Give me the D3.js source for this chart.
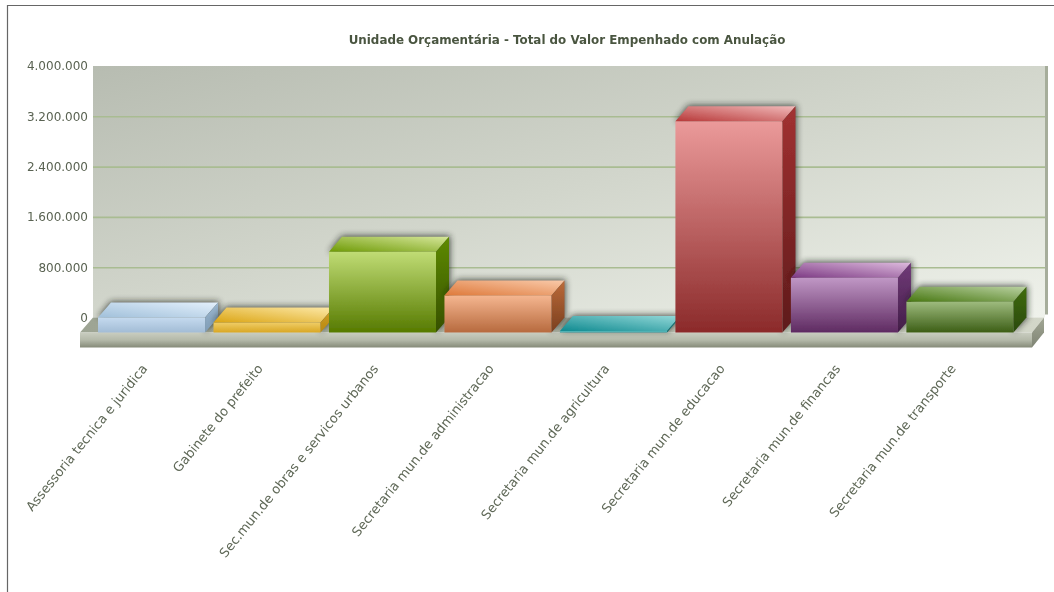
<!DOCTYPE html>
<html><head><meta charset="utf-8">
<script src="https://cdn.jsdelivr.net/npm/d3@7"></script>
<style>
html,body{margin:0;padding:0;background:#fff;overflow:hidden}
svg{display:block}
text{font-family:"DejaVu Sans",sans-serif}
</style></head><body>
<svg id="c" width="1054" height="592"></svg>
<script>
const titleText = "Unidade Orçamentária - Total do Valor Empenhado com Anulação";
const categories = ["Assessoria tecnica e juridica","Gabinete do prefeito","Sec.mun.de obras e servicos urbanos","Secretaria mun.de administracao","Secretaria mun.de agricultura","Secretaria mun.de educacao","Secretaria mun.de financas","Secretaria mun.de transporte"];
const values = [240000,160000,1285000,590000,25000,3360000,870000,490000];
const yTicks = [0,800000,1600000,2400000,3200000,4000000];
const palette = [
 {f:["#c5daef","#a2bcd5"],t:["#a1c0da","#e3f0fc"],s:["#9ab6ce","#7f9cb6"]},
 {f:["#efcd68","#d9a722"],t:["#dba514","#fde9a8"],s:["#d0a028","#b88810"]},
 {f:["#c0dc75","#567a00"],t:["#6e9a06","#d6e79a"],s:["#5e8a00","#365000"]},
 {f:["#f5b690","#b76a3e"],t:["#de793a","#f9caaa"],s:["#bc6b39","#7a3f1f"]},
 {f:["#62bfc0","#2f9a9e"],t:["#0f8a90","#93d8d8"],s:["#0e8085","#0b6a6e"]},
 {f:["#eb9a9a","#8b2a2a"],t:["#b73838","#f1baba"],s:["#a23131","#5e1b1b"]},
 {f:["#c097c5","#5e2a61"],t:["#7c3983","#ddbadd"],s:["#713a79","#421d47"]},
 {f:["#9ebb7e","#3c5e15"],t:["#477711","#bad2a2"],s:["#406c10","#2a490a"]}
];
const svg = d3.select("#c");
const defs = svg.append("defs");
const W = {x0:93,x1:1045};
const depth = {dx:13,dy:15};
const y = d3.scaleLinear().domain([0,4000000]).range([317.5,66]);
const x = d3.scaleBand().domain(categories).range([93.85,1017.6]).paddingInner(0.073).paddingOuter(0.036);
const fmt = d3.formatLocale({decimal:",",thousands:".",grouping:[3],currency:["",""]}).format(",d");

function grad(id,stops,x1,y1,x2,y2){
  const g=defs.append("linearGradient").attr("id",id).attr("x1",x1).attr("y1",y1).attr("x2",x2).attr("y2",y2);
  stops.forEach((c,i)=>g.append("stop").attr("offset",i/(stops.length-1)).attr("stop-color",c));
}
grad("wall",["#b7bcb1","#d2d6cc","#eff2eb"],0,0,1,1);
grad("floorTop",["#9da493","#d3d7c9"],0,0,1,0);
grad("floorFront",["#c9cdc0","#b4b9a9","#858a78"],0,0,0,1);
grad("floorSide",["#a2a795","#7f8474"],0,0,0,1);
palette.forEach((p,i)=>{
  grad("f"+i,p.f,0,0,0,1);
  grad("t"+i,p.t,0,1,1,0);
  grad("s"+i,p.s,0,0,0,1);
});
const blur=defs.append("filter").attr("id","shadow").attr("x","-20%").attr("y","-60%").attr("width","140%").attr("height","220%");
blur.append("feGaussianBlur").attr("stdDeviation",3.2);
const soft=defs.append("filter").attr("id","soft").attr("filterUnits","userSpaceOnUse").attr("x",0).attr("y",0).attr("width",1054).attr("height",592);
soft.append("feGaussianBlur").attr("stdDeviation",0.55);

const root = svg.append("g").attr("filter","url(#soft)");
root.append("path").attr("d","M7.5 592V5.5H1054").attr("fill","none").attr("stroke","#666").attr("stroke-width",1.2);
root.append("text").attr("x",567).attr("y",44).attr("text-anchor","middle").attr("font-size",11.9).attr("font-weight","bold").attr("fill","#4a5540").text(titleText);
root.append("rect").attr("x",W.x0).attr("y",y(4000000)).attr("width",W.x1-W.x0).attr("height",y(0)-y(4000000)).attr("fill","url(#wall)");
root.append("line").attr("x1",W.x1+1.5).attr("x2",W.x1+1.5).attr("y1",y(4000000)).attr("y2",y(0)-3).attr("stroke","#a6ad9b").attr("stroke-width",3);
const axis = d3.axisLeft(y).tickValues(yTicks).tickSize(0).tickPadding(5).tickFormat(fmt);
const gy = root.append("g").attr("transform",`translate(${W.x0},0)`).call(axis);
gy.select(".domain").remove();
gy.selectAll("text").attr("font-size",12).attr("fill","#5a6352").style("font-family",'"DejaVu Sans",sans-serif');
gy.selectAll(".tick").filter(d=>d>0&&d<4000000).append("line").attr("x1",0).attr("x2",W.x1-W.x0).attr("y1",0).attr("y2",0).attr("stroke","#a9bc92").attr("stroke-width",1.6);
const by = y(0)+depth.dy, fx0=W.x0-depth.dx, fx1=W.x1-depth.dx, slab=15;
root.append("path").attr("d",`M${fx0} ${by}L${W.x0} ${y(0)}H${W.x1-1}L${fx1} ${by}Z`).attr("fill","url(#floorTop)");
root.append("rect").attr("x",fx0).attr("y",by).attr("width",fx1-fx0).attr("height",slab).attr("fill","url(#floorFront)");
root.append("path").attr("d",`M${fx1} ${by}L${W.x1-1} ${y(0)}V${y(0)+slab}L${fx1} ${by+slab}Z`).attr("fill","url(#floorSide)");
const bars = root.selectAll("g.bar").data(categories.map((c,i)=>({c,i,v:values[i]}))).join("g").attr("class","bar");
const w = x.bandwidth();
bars.append("path").attr("filter","url(#shadow)").attr("fill","#1f231b").attr("opacity",0.75)
  .attr("d",d=>{const l=x(d.c),t=y(d.v)+depth.dy,r=l+w;
    return `M${l+depth.dx} ${t-depth.dy-1}H${r+depth.dx+1}V${by-depth.dy}L${r} ${by}V${t}H${l}Z`;});
bars.append("rect").attr("x",d=>x(d.c)).attr("y",d=>y(d.v)+depth.dy).attr("width",w).attr("height",d=>y(0)-y(d.v)).attr("fill",d=>`url(#f${d.i})`);
bars.append("path").attr("fill",d=>`url(#t${d.i})`)
  .attr("d",d=>{const l=x(d.c),t=y(d.v)+depth.dy;return `M${l} ${t}L${l+depth.dx} ${t-depth.dy}H${l+w+depth.dx}L${l+w} ${t}Z`;});
bars.append("path").attr("fill",d=>`url(#s${d.i})`)
  .attr("d",d=>{const r=x(d.c)+w,t=y(d.v)+depth.dy;return `M${r} ${t}L${r+depth.dx} ${t-depth.dy}V${by-depth.dy}L${r} ${by}Z`;});
root.selectAll("text.cat").data(categories).join("text").attr("class","cat")
  .attr("transform",c=>`translate(${x(c)+w/2-7},366) rotate(-51)`)
  .attr("text-anchor","end").attr("dy","0.35em").attr("font-size",13).attr("fill","#5f6857").text(c=>c);
</script></body></html>
